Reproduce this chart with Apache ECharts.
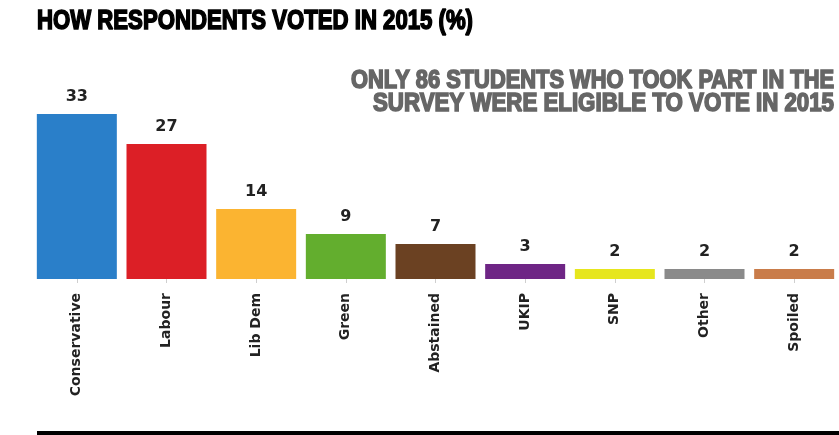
<!DOCTYPE html>
<html>
<head>
<meta charset="utf-8">
<script src="https://cdn.jsdelivr.net/npm/echarts@6/dist/echarts.min.js"></script>
<style>
html,body{margin:0;padding:0;background:#fff;}
#chart{width:839px;height:435px;}
</style>
</head>
<body>
<div id="chart"></div>
<script>
const categories = ['Conservative','Labour','Lib Dem','Green','Abstained','UKIP','SNP','Other','Spoiled'];
const values = [33, 27, 14, 9, 7, 3, 2, 2, 2];
const colors = ['#2a7fc9','#dc1f26','#fbb431','#63ae2e','#6b4122','#6e2585','#e6e61e','#8a8a8a','#c97c4a'];
const titleText = 'HOW RESPONDENTS VOTED IN 2015 (%)';
const noteLines = ['ONLY 86 STUDENTS WHO TOOK PART IN THE', 'SURVEY WERE ELIGIBLE TO VOTE IN 2015'];

const headFont = "'Liberation Sans', Arial, sans-serif";
function measure(text, size) {
  const c = document.createElement('canvas').getContext('2d');
  c.font = 'bold ' + size + 'px ' + headFont;
  return c.measureText(text).width;
}
function condensedText(text, size, targetW, x, y, align, color) {
  const w = measure(text, size);
  const s = targetW / w;
  return {
    type: 'text', x: x, y: y, scaleX: s, scaleY: 1,
    style: { text: text, font: 'bold ' + size + 'px ' + headFont, fill: color,
             stroke: color, lineWidth: 1.6, align: align, verticalAlign: 'middle' }
  };
}

const chart = echarts.init(document.getElementById('chart'));
chart.setOption({
  animation: false,
  grid: { left: 32, width: 809, top: 79, bottom: 156, containLabel: false },
  xAxis: {
    type: 'category',
    data: categories,
    axisLine: { show: false },
    axisTick: { show: true, alignWithLabel: true, length: 4, lineStyle: { color: '#cfcfcf' } },
    axisLabel: { rotate: 90, margin: 14, fontSize: 14, fontWeight: 'bold', color: '#222', fontFamily: 'DejaVu Sans' }
  },
  yAxis: { type: 'value', min: 0, max: 40, show: false, splitLine: { show: false } },
  series: [{
    type: 'bar',
    barWidth: 80,
    data: values.map((v, i) => ({ value: v, itemStyle: { color: colors[i] } })),
    label: { show: true, position: 'top', distance: 9, fontSize: 16, fontWeight: 'bold', color: '#222', fontFamily: 'DejaVu Sans' }
  }],
  graphic: [
    condensedText(titleText, 27, 436, 37, 22, 'left', '#000'),
    condensedText(noteLines[0], 25, 483, 834, 81, 'right', '#666'),
    condensedText(noteLines[1], 25, 461, 834, 104, 'right', '#666'),
    { type: 'rect', shape: { x: 37, y: 431, width: 802, height: 4 }, style: { fill: '#000' } }
  ]
});
</script>
</body>
</html>
